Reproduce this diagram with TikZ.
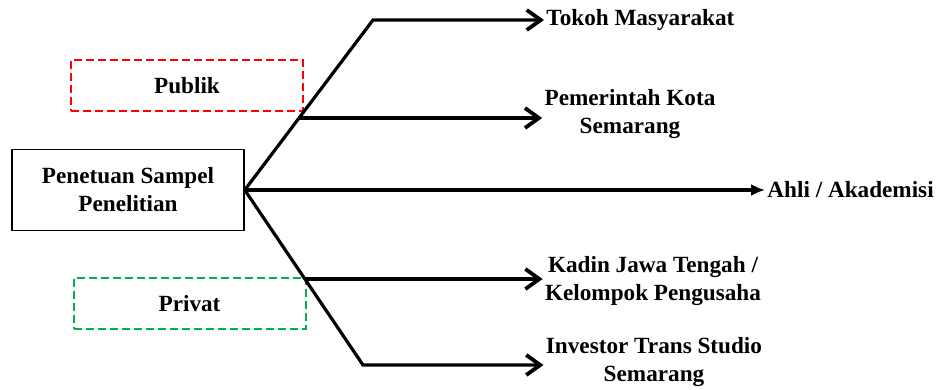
\documentclass[tikz,border=0pt]{standalone}
\usepackage{fontspec}
\setmainfont{Liberation Serif}
\usetikzlibrary{arrows.meta}
\definecolor{dred}{RGB}{255,0,0}
\definecolor{dgreen}{RGB}{0,176,80}
\begin{document}
\begin{tikzpicture}[x=0.5pt,y=-0.5pt,
  lbl/.style={font=\bfseries\fontsize{11.6}{14}\selectfont, align=center, inner sep=1pt},
  mainbox/.style={lbl, draw, line width=0.75pt, minimum width=116pt, minimum height=40.5pt},
  groupbox/.style={lbl, draw, dashed, line width=1pt, dash pattern=on 4pt off 2pt, minimum width=116pt, minimum height=25.5pt},
  arr/.style={line width=1.6pt, line join=miter, -{Straight Barb[length=7pt,width=10pt,line width=1.9pt]}},
  arrb/.style={line width=1.6pt, -{Latex[length=7pt,width=6pt]}}]
\useasboundingbox (0,0) rectangle (938,390);
\node[mainbox] (main) at (128,190) {Penetuan Sampel\\Penelitian};
\node[groupbox, draw=dred] (publik) at (187,85.5) {Publik};
\node[groupbox, draw=dgreen] (privat) at (189.5,303.5) {Privat};
\node[lbl, anchor=west] (t1) at (544,20) {Tokoh Masyarakat};
\node[lbl] (t2) at (630,114) {Pemerintah Kota\\Semarang};
\node[lbl, anchor=west] (t3) at (765,190) {Ahli / Akademisi};
\node[lbl] (t4) at (653,281) {Kadin Jawa Tengah /\\Kelompok Pengusaha};
\node[lbl] (t5) at (654,362) {Investor Trans Studio\\Semarang};
\coordinate (c1) at (373,20);
\coordinate (c2) at (363,365);
\coordinate (b1) at (298.6,118);
\coordinate (b2) at (304.5,279);
\draw[arr] (main.east) -- (c1) -- (c1 -| t1.west);
\draw[arr] (b1) -- (b1 -| t2.west);
\draw[arrb] (main.east) -- (t3.west);
\draw[arr] (b2) -- (b2 -| t4.west);
\draw[arr] (main.east) -- (c2) -- (c2 -| t5.west);
\end{tikzpicture}
\end{document}
